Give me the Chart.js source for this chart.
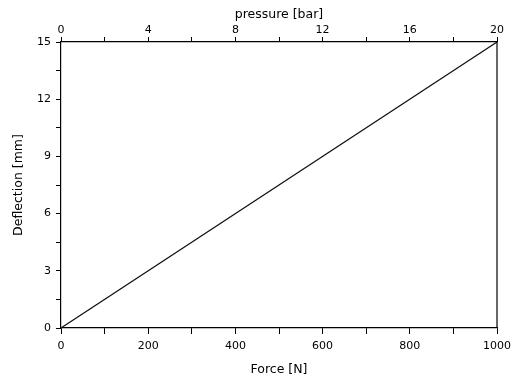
<!DOCTYPE html>
<html>
<head>
<meta charset="utf-8">
<script src="https://cdn.jsdelivr.net/npm/chart.js@4/dist/chart.umd.min.js"></script>
<style>
  html, body { margin: 0; padding: 0; background: #fff; }
  #wrap { width: 525px; height: 377px; position: relative; }
</style>
</head>
<body>
<div id="wrap"><canvas id="c"></canvas></div>
<script>
// ---- data ----
const force = [0, 1000];            // N
const deflection = [0, 15];         // mm
const forceTicks = [0, 200, 400, 600, 800, 1000];
const pressureTicks = [0, 4, 8, 12, 16, 20];
const deflectionTicks = [0, 3, 6, 9, 12, 15];
const xTitle = 'Force [N]';
const x2Title = 'pressure [bar]';
const yTitle = 'Deflection [mm]';

const points = force.map((f, i) => ({ x: f, y: deflection[i] }));
const near = (arr, v) => arr.some(t => Math.abs(t - v) < 1e-6);

const tickFont = { family: 'DejaVu Sans', size: 11 };
const titleFont = { family: 'DejaVu Sans', size: 12.5 };
const ink = '#000';

const framePlugin = {
  id: 'frame',
  afterDatasetsDraw(chart) {
    const { ctx, chartArea: a } = chart;
    ctx.save();
    ctx.strokeStyle = '#000';
    ctx.lineWidth = 1.2;
    ctx.beginPath();
    ctx.moveTo(a.right, a.top);
    ctx.lineTo(a.right, a.bottom);
    ctx.stroke();
    ctx.restore();
  }
};

new Chart(document.getElementById('c'), {
  type: 'line',
  data: {
    datasets: [{
      data: points,
      borderColor: '#111',
      borderWidth: 1.2,
      pointRadius: 0,
      fill: false,
      tension: 0,
      xAxisID: 'x',
      yAxisID: 'y'
    }]
  },
  options: {
    responsive: true,
    maintainAspectRatio: false,
    animation: false,
    layout: { padding: { left: 0, right: 28, top: 0, bottom: 0 } },
    plugins: { legend: { display: false }, tooltip: { enabled: false } },
    scales: {
      x: {
        type: 'linear', position: 'bottom', min: 0, max: 1000,
        afterFit: s => { s.height = 49; },
        border: { display: true, color: '#000', width: 1.2 },
        grid: { drawOnChartArea: false, drawTicks: true, tickLength: 6, color: '#000', tickColor: '#000' },
        ticks: {
          stepSize: 100, autoSkip: false, maxRotation: 0, padding: 6,
          color: ink, font: tickFont,
          callback: v => near(forceTicks, v) ? String(v) : ''
        },
        title: { display: true, text: xTitle, color: ink, font: titleFont, padding: { top: 0, bottom: 0 } }
      },
      x2: {
        type: 'linear', position: 'top', min: 0, max: 20,
        afterFit: s => { s.height = 42; },
        border: { display: true, color: '#000', width: 1.2 },
        grid: { drawOnChartArea: false, drawTicks: true, tickLength: 5, color: '#000', tickColor: '#000' },
        ticks: {
          stepSize: 2, autoSkip: false, maxRotation: 0, padding: 0,
          color: ink, font: tickFont,
          callback: v => near(pressureTicks, v) ? String(v) : ''
        },
        title: { display: true, text: x2Title, color: ink, font: titleFont, padding: { top: 7, bottom: 0 } }
      },
      y: {
        type: 'linear', position: 'left', min: 0, max: 15,
        afterFit: s => { s.width = 61; },
        border: { display: true, color: '#000', width: 1.2 },
        grid: { drawOnChartArea: false, drawTicks: true, tickLength: 5, color: '#000', tickColor: '#000' },
        ticks: {
          stepSize: 1.5, autoSkip: false, padding: 5,
          color: ink, font: tickFont,
          callback: v => near(deflectionTicks, v) ? String(Math.round(v)) : ''
        },
        title: { display: true, text: yTitle, color: ink, font: titleFont, padding: { top: 11, bottom: 0 } }
      }
    }
  },
  plugins: [framePlugin]
});
</script>
</body>
</html>
